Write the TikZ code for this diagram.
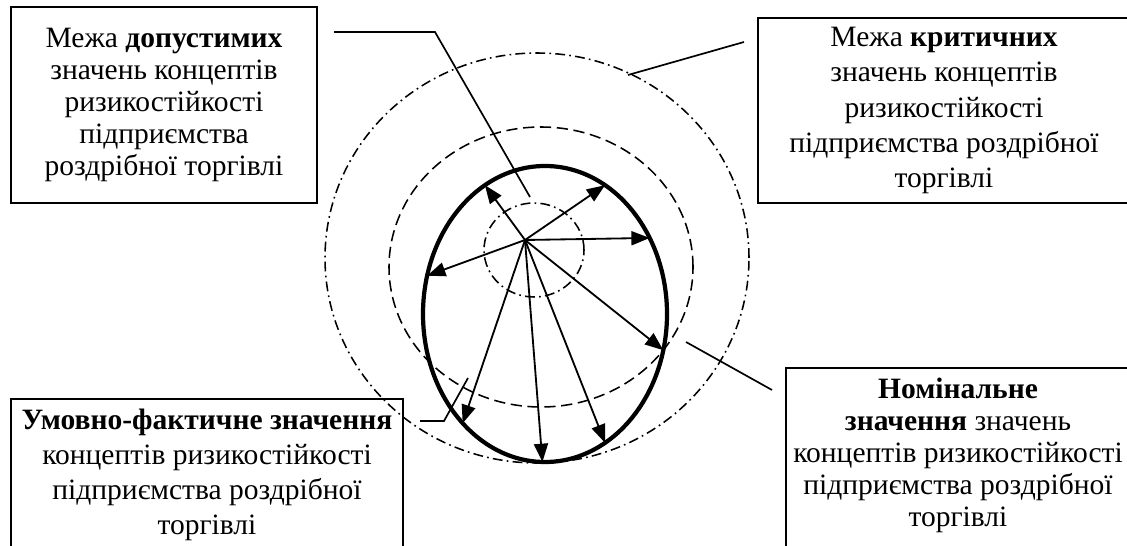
\documentclass[tikz,border=0pt]{standalone}
\usepackage{fontspec}
\setmainfont{Liberation Serif}
\usetikzlibrary{arrows.meta,shapes.geometric}

\begin{document}
\begin{tikzpicture}[
  box/.style={draw=black, line width=1.3pt, align=center, inner sep=0pt,
    font={\fontsize{21}{22.75}\selectfont}},
  widebox/.style={box, font={\fontsize{21}{25}\selectfont}},
  boundary/.style={line width=1.1pt, dash pattern=on 7pt off 3pt on 1.2pt off 3pt},
  tolerance/.style={line width=1.1pt, dash pattern=on 8pt off 4pt},
  actual/.style={draw, ellipse, line width=3pt, outer sep=0pt, inner sep=0pt,
    minimum width=6.1cm, minimum height=7.4cm},
  ray/.style={line width=1.3pt, -{Triangle[length=13pt, width=10pt]}},
  leader/.style={line width=1.2pt},
]
\useasboundingbox (0,0) rectangle (28.175,13.625);
\clip (0,0) rectangle (28.175,13.625);

% critical, admissible and inner boundaries
\draw[boundary]  (13.425,7.175) ellipse [x radius=5.3, y radius=5.125];
\draw[tolerance] (13.525,6.95)  ellipse [x radius=3.8, y radius=3.5];
\draw[boundary]  (13.35,7.375)  ellipse [x radius=1.25, y radius=1.175];
\node[actual] (fact) at (13.625,5.775) {};

\coordinate (o) at (13.125,7.625);
\foreach \a in {115.3,65.5,36,162.9,343,233,269.2,295.5}
  \draw[ray] (o) -- (fact.\a);

\node[box, minimum width=7.65cm, minimum height=4.9cm] (dop) at (4.1,11.0)
  {Межа \textbf{допустимих}\\значень концептів\\ризикостійкості\\підприємства\\роздрібної торгівлі};
\node[widebox, minimum width=9.3cm, minimum height=4.625cm] (krit) at (23.6,10.8625)
  {Межа \textbf{критичних}\\значень концептів\\ризикостійкості\\підприємства роздрібної\\торгівлі};
\node[widebox, anchor=north, minimum width=9.8cm, inner ysep=7pt] (umov) at (5.175,3.675)
  {\textbf{Умовно-фактичне значення}\\концептів ризикостійкості\\підприємства роздрібної\\торгівлі\\\mbox{}};
\node[box, anchor=north, minimum width=8.6cm, inner ysep=7pt] (nom) at (23.95,4.45)
  {\textbf{Номінальне}\\\textbf{значення} значень\\концептів ризикостійкості\\підприємства роздрібної\\торгівлі\\\mbox{}};

% leaders from the boxes to the curves
\coordinate (dop-a) at (8.35,12.825);
\coordinate (dop-b) at (10.875,12.825);
\coordinate (dop-c) at (13.25,8.7);
\draw[leader] (dop-a) -- (dop-b) -- (dop-c);
\coordinate (krit-a) at (18.6,12.575);
\coordinate (krit-b) at (15.7,11.75);
\draw[leader] (krit-a) -- (krit-b);
\coordinate (umov-a) at (10.5,3.1);
\coordinate (umov-b) at (11.1,3.1);
\coordinate (umov-c) at (11.7,4.175);
\draw[leader] (umov-a) -- (umov-b) -- (umov-c);
\coordinate (nom-a) at (19.3,3.875);
\coordinate (nom-b) at (17.15,5.075);
\draw[leader] (nom-a) -- (nom-b);
\end{tikzpicture}
\end{document}
